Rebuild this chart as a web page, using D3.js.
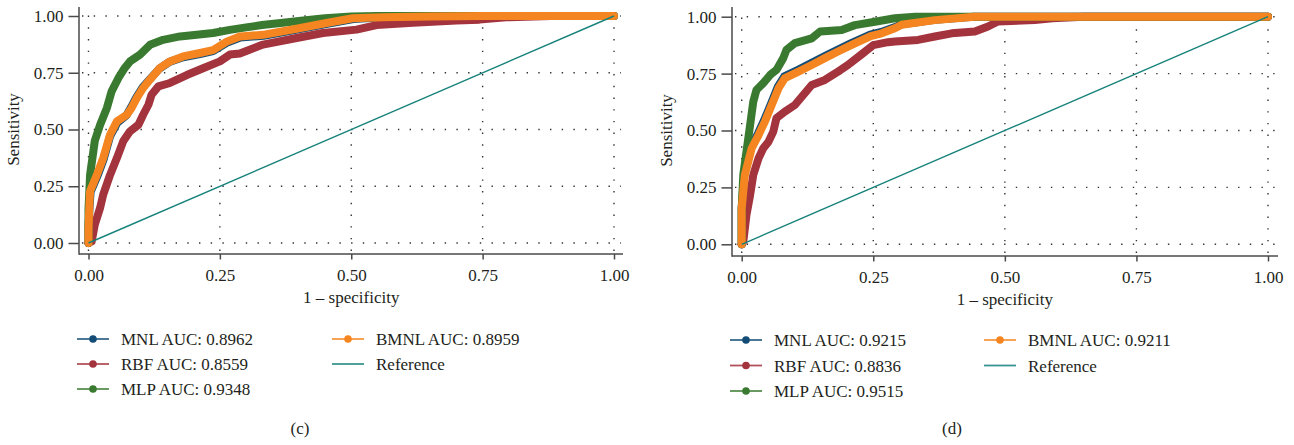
<!DOCTYPE html>
<html>
<head>
<meta charset="utf-8">
<script src="https://cdn.jsdelivr.net/npm/d3@7"></script>
<style>
  body { margin: 0; background: #fff; }
  svg { display: block; }
  text { font-family: "Liberation Serif", "Times New Roman", serif; fill: #231f20; }
</style>
</head>
<body>
<svg id="main-svg" width="1294" height="445"></svg>
<script>
// ROC points [1 - specificity, sensitivity]
// panel (c)
let mnlC = [[0,0],[0,0.07],[0.002,0.16],[0.004,0.225],[0.017,0.295],[0.029,0.37],[0.041,0.47],[0.055,0.53],[0.072,0.562],[0.081,0.598],[0.091,0.642],[0.103,0.686],[0.116,0.72],[0.135,0.768],[0.154,0.798],[0.18,0.818],[0.212,0.832],[0.237,0.845],[0.263,0.882],[0.289,0.905],[0.333,0.913],[0.397,0.94],[0.454,0.966],[0.504,0.987],[0.56,0.994],[0.65,0.998],[0.75,1],[1,1]];
let rbfC = [[0,0],[0.006,0.007],[0.012,0.081],[0.022,0.154],[0.028,0.213],[0.041,0.30],[0.054,0.374],[0.066,0.448],[0.079,0.492],[0.095,0.521],[0.104,0.565],[0.114,0.609],[0.12,0.653],[0.133,0.69],[0.155,0.705],[0.187,0.74],[0.218,0.77],[0.25,0.80],[0.269,0.83],[0.288,0.835],[0.332,0.874],[0.396,0.903],[0.446,0.925],[0.51,0.94],[0.548,0.96],[0.617,0.97],[0.70,0.98],[0.744,0.984],[0.80,0.995],[0.88,1],[1,1]];
let mlpC = [[0,0],[0,0.15],[0.003,0.30],[0.012,0.45],[0.022,0.52],[0.035,0.595],[0.044,0.668],[0.057,0.727],[0.069,0.771],[0.079,0.80],[0.098,0.83],[0.117,0.873],[0.142,0.895],[0.174,0.91],[0.206,0.917],[0.237,0.925],[0.269,0.939],[0.30,0.95],[0.33,0.96],[0.37,0.97],[0.40,0.978],[0.45,0.99],[0.50,0.998],[0.55,1],[1,1]];
let bmnlC = [[0,0],[0,0.06],[0.0015,0.154],[0.003,0.228],[0.016,0.30],[0.028,0.374],[0.041,0.477],[0.054,0.536],[0.073,0.565],[0.082,0.595],[0.092,0.639],[0.104,0.683],[0.117,0.72],[0.136,0.771],[0.155,0.80],[0.18,0.822],[0.212,0.837],[0.237,0.85],[0.263,0.887],[0.288,0.91],[0.332,0.917],[0.396,0.944],[0.453,0.969],[0.503,0.99],[0.56,0.995],[0.65,0.998],[0.75,1],[1,1]];
let aucC = ['0.8962', '0.8559', '0.9348', '0.8959'];

// panel (d)
let mnlD = [[0,0],[0,0.16],[0.005,0.31],[0.018,0.428],[0.031,0.487],[0.043,0.547],[0.056,0.62],[0.069,0.694],[0.081,0.738],[0.107,0.767],[0.132,0.796],[0.157,0.826],[0.182,0.855],[0.208,0.884],[0.244,0.921],[0.265,0.933],[0.29,0.953],[0.304,0.967],[0.367,0.986],[0.44,1],[1,1]];
let rbfD = [[0,0],[0.003,0.012],[0.009,0.129],[0.016,0.217],[0.022,0.305],[0.032,0.378],[0.041,0.422],[0.051,0.451],[0.06,0.495],[0.066,0.554],[0.082,0.583],[0.101,0.612],[0.117,0.656],[0.133,0.70],[0.158,0.722],[0.183,0.759],[0.202,0.788],[0.228,0.835],[0.25,0.875],[0.278,0.888],[0.291,0.891],[0.335,0.898],[0.367,0.913],[0.399,0.927],[0.443,0.935],[0.468,0.957],[0.487,0.979],[0.557,0.985],[0.59,0.993],[0.65,1],[1,1]];
let mlpD = [[0,0],[0,0.158],[0.003,0.305],[0.009,0.407],[0.016,0.524],[0.022,0.627],[0.028,0.678],[0.041,0.708],[0.054,0.744],[0.066,0.766],[0.079,0.818],[0.085,0.854],[0.101,0.884],[0.133,0.905],[0.149,0.935],[0.19,0.942],[0.215,0.963],[0.253,0.978],[0.291,0.993],[0.33,1],[1,1]];
let bmnlD = [[0,0],[0,0.158],[0.006,0.305],[0.019,0.422],[0.032,0.48],[0.044,0.539],[0.057,0.612],[0.07,0.686],[0.082,0.73],[0.108,0.759],[0.133,0.788],[0.158,0.818],[0.183,0.847],[0.209,0.876],[0.245,0.915],[0.266,0.927],[0.291,0.949],[0.304,0.965],[0.367,0.985],[0.443,1],[1,1]];
let aucD = ['0.9215', '0.8836', '0.9515', '0.9211'];

let referenceLine = [[0,0],[1,1]];
let modelNames = ['MNL', 'RBF', 'MLP', 'BMNL'];
let modelColors = ['#134d77', '#a3333d', '#3a7a30', '#f58520'];
let referenceColor = '#16827b';
let ticks = [0, 0.25, 0.5, 0.75, 1];

// where each panel sits on the page
let PANELS = [
    { curves: [mnlC, rbfC, mlpC, bmnlC], auc: aucC, caption: '(c)', captionX: 300,
      xRange: [88.5, 614], yRange: [243, 16], axisX: 79, axisY: 254, axisTop: 7, axisRight: 623,
      legendX: [77, 332], legendY: [339, 364, 389] },
    { curves: [mnlD, rbfD, mlpD, bmnlD], auc: aucD, caption: '(d)', captionX: 952,
      xRange: [741.7, 1268], yRange: [244.3, 16.7], axisX: 732, axisY: 256, axisTop: 7, axisRight: 1278,
      legendX: [730, 984], legendY: [340, 365.5, 391] }
];

let svg = d3.select('#main-svg');

PANELS.forEach(p => {
    let x = d3.scaleLinear().domain([0, 1]).range(p.xRange);
    let y = d3.scaleLinear().domain([0, 1]).range(p.yRange);
    let g = svg.append('g');

    // dotted grid
    g.selectAll('.hgrid').data(ticks).enter().append('line')
        .attr('x1', p.axisX + 3).attr('x2', p.axisRight - 2)
        .attr('y1', d => y(d)).attr('y2', d => y(d))
        .attr('stroke', '#333').attr('stroke-width', 1.4)
        .attr('stroke-dasharray', '1.4 10.3');
    g.selectAll('.vgrid').data(ticks).enter().append('line')
        .attr('x1', d => x(d)).attr('x2', d => x(d))
        .attr('y1', p.axisY - 3).attr('y2', p.axisTop + 2)
        .attr('stroke', '#333').attr('stroke-width', 1.4)
        .attr('stroke-dasharray', '1.4 10.3');

    // axes
    let yAxis = d3.axisLeft(y).tickValues(ticks).tickFormat(d3.format('.2f')).tickSize(10.5).tickPadding(5);
    let xAxis = d3.axisBottom(x).tickValues(ticks).tickFormat(d3.format('.2f')).tickSize(5.5).tickPadding(9.5);
    let ya = g.append('g').attr('transform', `translate(${p.axisX},0)`).call(yAxis);
    let xa = g.append('g').attr('transform', `translate(0,${p.axisY})`).call(xAxis);
    [ya, xa].forEach(a => {
        a.select('.domain').remove();
        a.selectAll('line').attr('stroke', '#4a4a4a').attr('stroke-width', 1.5);
        a.selectAll('text').style('font-family', '"Liberation Serif", serif')
            .style('font-size', '17px').attr('fill', '#231f20');
    });
    g.append('line').attr('x1', p.axisX).attr('x2', p.axisX)
        .attr('y1', p.axisTop).attr('y2', p.axisY + 0.75)
        .attr('stroke', '#4a4a4a').attr('stroke-width', 1.5);
    g.append('line').attr('x1', p.axisX).attr('x2', p.axisRight)
        .attr('y1', p.axisY).attr('y2', p.axisY)
        .attr('stroke', '#4a4a4a').attr('stroke-width', 1.5);

    // axis titles
    let midX = (p.xRange[0] + p.xRange[1]) / 2;
    g.append('text').attr('x', midX).attr('y', p.axisY + 49)
        .attr('text-anchor', 'middle').style('font-size', '17px').text('1 \u2013 specificity');
    g.append('text')
        .attr('transform', `translate(${p.axisX - 60},${(p.yRange[0] + p.yRange[1]) / 2}) rotate(-90)`)
        .attr('text-anchor', 'middle').style('font-size', '17px').text('Sensitivity');

    // ROC curves
    let line = d3.line().x(d => x(d[0])).y(d => y(d[1]));
    p.curves.forEach((c, i) => {
        g.append('path').datum(c)
            .attr('d', line)
            .attr('fill', 'none')
            .attr('stroke', modelColors[i])
            .attr('stroke-width', 8)
            .attr('stroke-linecap', 'round')
            .attr('stroke-linejoin', 'round');
    });
    g.append('path').datum(referenceLine)
        .attr('d', line)
        .attr('fill', 'none')
        .attr('stroke', referenceColor)
        .attr('stroke-width', 1.4);

    // legend: two columns, models then reference
    let items = modelNames.map((n, i) => ({ label: `${n} AUC: ${p.auc[i]}`, color: modelColors[i], dot: true }));
    items.push({ label: 'Reference', color: referenceColor, dot: false });
    let slots = [[0, 0], [0, 1], [0, 2], [1, 0], [1, 1]];
    items.forEach((it, i) => {
        let lx = p.legendX[slots[i][0]];
        let ly = p.legendY[slots[i][1]];
        g.append('line').attr('x1', lx).attr('x2', lx + 32).attr('y1', ly).attr('y2', ly)
            .attr('stroke', it.color).attr('stroke-width', 1.8).attr('stroke-opacity', 0.85);
        if (it.dot) {
            g.append('circle').attr('cx', lx + 16).attr('cy', ly).attr('r', 3.8).attr('fill', it.color);
        }
        g.append('text').attr('x', lx + 44).attr('y', ly + 6)
            .style('font-size', '17px').text(it.label);
    });

    // caption
    g.append('text').attr('x', p.captionX).attr('y', 434)
        .attr('text-anchor', 'middle').style('font-size', '17px').text(p.caption);
});
</script>
</body>
</html>
